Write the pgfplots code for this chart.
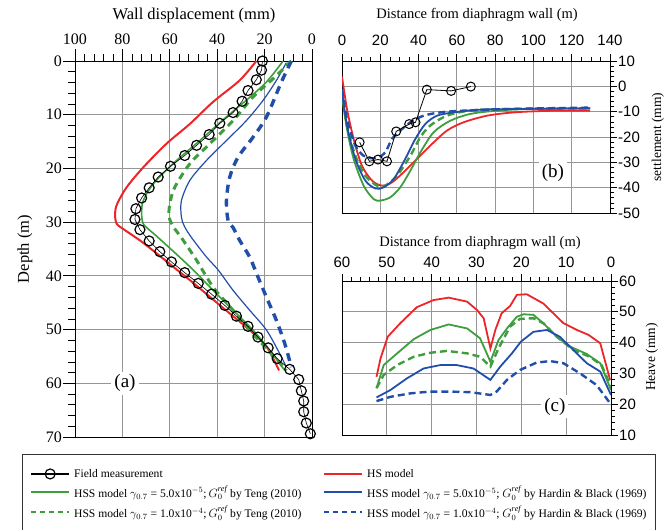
\documentclass[border=0pt]{standalone}
\usepackage{fontspec}
\setmainfont{Liberation Serif}
\setsansfont{Liberation Sans}
\usepackage{pgfplots}
\pgfplotsset{compat=1.18}

\definecolor{hsred}{RGB}{236,38,40}
\definecolor{hssgreen}{RGB}{62,158,62}
\definecolor{hssblue}{RGB}{34,78,170}
\definecolor{gridgray}{RGB}{150,150,150}

\pgfplotsset{
  panel/.style={
    scale only axis,
    anchor=south west,
    tick align=outside,
    axis line style={black, line width=0.8pt},
    major tick style={black, line width=0.8pt},
    minor tick style={black, line width=0.6pt},
    grid=major,
    major grid style={gridgray, line width=0.9pt},
    /pgf/number format/assume math mode=true,
    legend image code/.code={\draw[mark repeat=2,mark phase=2,#1] plot coordinates {(0pt,0pt) (19pt,0pt) (38pt,0pt)};},
  },
  keystyle/.style={
    draw=none, fill=none, inner sep=0pt, row sep=5pt,
    font=\fontsize{11.6}{13}\selectfont,
    nodes={inner xsep=4pt, inner ysep=1pt}},
  fieldline/.style={black, line width=1.2pt, mark=o, mark size=5pt, mark options={solid, line width=1.2pt}},
}

\begin{document}
\begin{tikzpicture}
\useasboundingbox (0pt,0pt) rectangle (672pt,530pt);

% ---------------- (a) wall displacement vs depth ----------------
\begin{axis}[panel,
  at={(75pt,93pt)}, width=237pt, height=376pt,
  x dir=reverse, y dir=reverse,
  xmin=0, xmax=100, ymin=0, ymax=70,
  xtick={0,20,...,100}, ytick={0,10,...,70},
  minor x tick num=4, minor y tick num=4,
  xtick pos=right, xticklabel pos=right, ytick pos=left,
  major tick length=12pt, minor tick length=7pt,
  tick label style={font=\fontsize{16}{18}\selectfont},
  xticklabel style={yshift=1pt},
  yticklabel style={inner sep=1pt},
  xlabel={Wall displacement (mm)}, ylabel={Depth (m)},
  label style={font=\fontsize{16.5}{19}\selectfont},
  xlabel style={at={(axis description cs:0.502,1.122)}, anchor=center},
  ylabel style={at={(axis description cs:-0.211,0.5)}, anchor=center},
  clip=false,
  legend style={keystyle, at={(axis description cs:-0.19,-0.0824)}, anchor=north west},
  legend cell align=left,
]
\addlegendimage{fieldline}
\addlegendentry{Field measurement}
\addlegendimage{hssgreen, line width=2pt}
\addlegendentry{HSS model $\gamma_{0.7}$ = 5.0x10$^{-5}$;$\,G_0^{\mathit{ref}}$ by Teng (2010)}
\addlegendimage{hssgreen, line width=2pt, dash pattern=on 5pt off 4pt}
\addlegendentry{HSS model $\gamma_{0.7}$ = 1.0x10$^{-4}$;$\,G_0^{\mathit{ref}}$ by Teng (2010)}

% HS model
\addplot[forget plot, hsred, line width=2pt, smooth] coordinates {
(23.5,0) (30.5,3.6) (41.7,7.6) (51.5,11.7) (61.4,15.4) (71.2,19.8) (78.2,23.5)
(82.2,26.6) (83.1,28.4) (82.4,30.3) (78.9,31.5) (72.6,33.4) (65.6,35.8) (58.6,38.3)
(51.5,40.8) (43.1,43.9) (34.7,47.0) (26.3,50.1) (19.2,53.2) (13.9,57.6)};
% HSS, Teng, gamma 5e-5
\addplot[forget plot, hssgreen, line width=1.6pt, smooth] coordinates {
(12.2,0) (19.2,3.9) (27.7,7.3) (36.1,10.4) (47.3,14.8) (58.6,19.1) (67.0,22.9)
(71.2,26.0) (71.9,28.4) (71.2,30.3) (68.5,31.5) (65.6,32.6) (58.6,35.4) (50.1,38.9)
(41.7,42.7) (33.3,46.4) (24.9,50.1) (17.8,53.9) (11.5,57.6)};
% HSS, Hardin & Black, gamma 5e-5
\addplot[forget plot, hssblue, line width=1.2pt, smooth] coordinates {
(10.8,0.3) (15.0,3.6) (20.6,7.3) (27.7,11.1) (36.1,14.8) (44.5,18.5) (51.5,22.2)
(55.1,26.0) (55.1,29.1) (53.8,30.8) (50.8,32.9) (44.5,36.5) (39.6,38.9) (33.3,42.7)
(26.3,46.4) (19.2,50.1) (13.6,54.5) (10.8,57.0)};
% HSS, Teng, gamma 1e-4
\addplot[forget plot, hssgreen, line width=3pt, dash pattern=on 7pt off 5pt, smooth] coordinates {
(8.7,0) (16.4,3.3) (24.9,6.7) (33.3,11.1) (43.1,15.4) (51.5,19.1) (57.9,23.5)
(60.0,26.6) (60.3,29.0) (58.6,30.8) (55.1,32.9) (48.7,37.1) (41.7,42.1) (33.3,46.4)
(24.9,50.8) (17.1,54.5) (10.8,57.6)};
% HSS, Hardin & Black, gamma 1e-4
\addplot[forget plot, hssblue, line width=3.4pt, dash pattern=on 8pt off 6pt, smooth] coordinates {
(8.7,0) (12.9,3.9) (19.2,10.4) (24.9,14.2) (31.2,17.9) (34.7,21.6) (36.1,26.0)
(35.4,29.7) (33.3,31.0) (30.5,33.4) (26.3,36.5) (22.8,40.2) (19.2,44.0) (15.0,48.3)
(11.5,52.6) (8.7,57.0)};
% field measurement (inclinometer)
\addplot[forget plot, fieldline, line width=0.6pt] coordinates {
(20.9,0.0) (21.3,1.7) (23.5,3.5) (27.0,5.5) (29.5,7.5) (33.3,9.6) (38.9,11.6)
(43.4,13.7) (48.7,15.7) (53.7,17.6) (59.7,19.6) (64.9,21.6) (68.7,23.6) (71.9,25.5)
(74.3,27.5) (74.7,29.5) (72.6,31.4) (68.7,33.5) (64.2,35.5) (59.3,37.4) (53.7,39.4)
(48.0,41.4) (42.4,43.4) (36.8,45.5) (31.9,47.5) (27.0,49.4) (22.8,51.4) (18.5,53.4)
(14.7,55.4) (9.4,57.4) (5.6,59.3) (4.5,61.4) (3.5,63.3) (3.5,65.3) (2.4,67.4) (0.7,69.4)};

\node[fill=white, inner sep=3pt, font=\fontsize{19}{21}\selectfont] at (axis cs:78.9,60) {(a)};
\end{axis}

% ---------------- (b) surface settlement ----------------
\begin{axis}[panel,
  at={(342pt,317pt)}, width=268pt, height=152pt,
  xmin=0, xmax=140, ymin=-50, ymax=10,
  xtick={0,20,...,140}, ytick={-50,-40,...,10},
  minor x tick num=3, minor y tick num=4,
  xtick pos=right, xticklabel pos=right, ytick pos=right, yticklabel pos=right,
  major tick length=7pt, minor tick length=4pt,
  tick label style={font=\sffamily\fontsize{15}{17}\selectfont},
  xticklabel style={yshift=5pt},
  yticklabel style={inner sep=1pt},
  xlabel={Distance from diaphragm wall (m)}, ylabel={settlement (mm)},
  xlabel style={font=\fontsize{14.5}{17}\selectfont, at={(axis description cs:0.504,1.303)}, anchor=center},
  ylabel style={font=\fontsize{13.5}{16}\selectfont, at={(axis description cs:1.179,0.5)}, anchor=center},
  legend style={keystyle, at={(axis description cs:-0.0709,-1.678)}, anchor=north west},
  legend cell align=left,
]
\addlegendimage{hsred, line width=2pt}
\addlegendentry{HS model}
\addlegendimage{hssblue, line width=2pt}
\addlegendentry{HSS model $\gamma_{0.7}$ = 5.0x10$^{-5}$; $G_0^{\mathit{ref}}$ by Hardin \& Black (1969)}
\addlegendimage{hssblue, line width=2pt, dash pattern=on 5pt off 4pt}
\addlegendentry{HSS model $\gamma_{0.7}$ = 1.0x10$^{-4}$; $G_0^{\mathit{ref}}$ by Hardin \& Black (1969)}

\addplot[forget plot, hsred, line width=1.8pt, smooth] coordinates {
(0,3.9) (2.6,-8.9) (6.1,-20.8) (10.4,-31.3) (15.7,-37.2) (20.9,-39.2) (26.1,-37.9)
(32.2,-33.9) (39.1,-28.7) (46.1,-23.4) (54.8,-17.5) (63.5,-14.2) (75.7,-11.6)
(89.6,-10.3) (107,-9.7) (129.6,-9.6)};
\addplot[forget plot, hssgreen, line width=1.8pt, smooth] coordinates {
(0,-3.7) (2.6,-16.8) (6.1,-28.7) (11.3,-39.2) (16.5,-44.5) (20,-45.1) (25.2,-43.8)
(30.4,-39.9) (35.7,-33.3) (40.9,-26.1) (47.8,-18.2) (56.5,-13.6) (67,-10.9)
(80.9,-9.6) (98.3,-8.9) (129.6,-8.7)};
\addplot[forget plot, hssgreen, line width=2.4pt, dash pattern=on 7pt off 4pt, smooth] coordinates {
(0,-1.7) (2.6,-15.5) (7,-27.4) (12.2,-35.3) (18.3,-39.2) (22.6,-39.2) (28.7,-35.3)
(35.7,-27.4) (40.9,-20.1) (46.1,-15.5) (54.8,-11.6) (67,-9.6) (89.6,-8.9) (129.6,-8.7)};
\addplot[forget plot, hssblue, line width=1.8pt, smooth] coordinates {
(0,-1.7) (2.6,-15.5) (7,-28.7) (12.2,-37.2) (17.4,-40.3) (21.7,-39.9) (27,-36.6)
(33,-28.7) (38.3,-20.8) (43.5,-14.9) (49.6,-11.6) (58.3,-10.3) (72.2,-9.2)
(98.3,-8.9) (129.6,-8.7)};
\addplot[forget plot, hssblue, line width=2.4pt, dash pattern=on 7pt off 4pt, smooth] coordinates {
(0,-1.1) (2.6,-12.9) (7,-23.4) (11.3,-27.4) (15.7,-28.4) (19.1,-28.0) (22.6,-26.1)
(26.1,-20.8) (30.4,-17.5) (35.7,-14.2) (42.6,-11.6) (51.3,-10.3) (63.5,-9.6)
(89.6,-8.9) (129.6,-8.4)};
\addplot[forget plot, black, line width=0.8pt, mark=o, mark size=4.5pt, mark options={solid, line width=1pt}] coordinates {
(9.2,-22.1) (14.3,-29.6) (18.8,-28.9) (23.5,-29.6) (28.3,-17.8) (35.1,-14.9)
(38.4,-14.2) (44.3,-1.3) (57.0,-1.8) (67.3,-0.1)};

\node[fill=white, inner sep=3pt, font=\fontsize{19}{21}\selectfont] at (axis cs:110.2,-34) {(b)};
\end{axis}

% ---------------- (c) basal heave ----------------
\begin{axis}[panel,
  at={(342pt,95pt)}, width=269pt, height=154pt,
  x dir=reverse,
  xmin=0, xmax=60, ymin=10, ymax=60,
  xtick={0,10,...,60}, ytick={10,20,...,60},
  minor x tick num=4, minor y tick num=4,
  xtick pos=right, xticklabel pos=right, ytick pos=right, yticklabel pos=right,
  major tick length=7pt, minor tick length=4pt,
  tick label style={font=\sffamily\fontsize{15}{17}\selectfont},
  xticklabel style={yshift=3pt},
  yticklabel style={inner sep=1pt},
  xlabel={Distance from diaphragm wall (m)}, ylabel={Heave (mm)},
  xlabel style={font=\fontsize{14.5}{17}\selectfont, at={(axis description cs:0.513,1.247)}, anchor=center},
  ylabel style={font=\fontsize{13.5}{16}\selectfont, at={(axis description cs:1.152,0.506)}, anchor=center},
]
\addplot[hsred, line width=1.8pt] coordinates {
(52.3,28.9) (51.4,34.9) (49.8,41.9) (47,46.3) (43.3,51.5) (39.6,53.8) (36.2,54.6)
(32.1,53.3) (29.9,50.6) (28.4,47.9) (26.9,38.1) (25.8,44.1) (24.4,49.5) (22.5,51.9)
(21,55.5) (18.8,55.7) (15.1,52.7) (10.6,46.3) (7.6,44.1) (5,42.5) (2.4,39.8) (0.2,27.9)};
\addplot[hssgreen, line width=1.8pt] coordinates {
(52.3,25.2) (50.7,32.7) (47.7,36.5) (44,41.1) (40.3,44.1) (36.2,45.9) (32.1,44.6)
(29.2,41.4) (26.9,33.8) (25.1,40.8) (23.2,44.6) (21,48.4) (19.5,49.2) (17.3,49.0)
(15.1,46.3) (12.1,41.9) (9.1,38.7) (5.4,36.3) (2.4,33.3) (0,24.6)};
\addplot[hssgreen, line width=2.4pt, dash pattern=on 7pt off 4pt] coordinates {
(52.3,25.2) (50.7,29.5) (47.7,32.7) (44,35.4) (40.3,36.7) (36.6,37.3) (32.1,36.5)
(29.2,35.4) (26.9,32.2) (25.1,38.1) (22.5,45.2) (20.3,47.7) (17.3,47.9) (15.1,46.3)
(12.1,41.9) (8.4,37.6) (4.7,35.4) (2.1,32.7) (0,25.7)};
\addplot[hssblue, line width=1.8pt] coordinates {
(52.3,22.2) (49.2,24.6) (45.5,28.4) (41.8,31.6) (38.1,32.7) (34.4,32.7) (30.7,31.6)
(26.9,27.9) (24.7,32.2) (22.1,36.5) (20.1,40.3) (17.3,43.5) (14.3,44.1) (11.4,41.9)
(8.4,37.6) (5.4,33.3) (2.4,30.6) (0,23)};
\addplot[hssblue, line width=2.4pt, dash pattern=on 7pt off 4pt] coordinates {
(52.3,21.0) (49.2,22.4) (44.8,23.5) (40.3,24.1) (35.9,24.1) (31.4,23.9) (26.9,23.0)
(25.5,24.1) (23.2,27.9) (20.3,31.1) (16.6,33.5) (13.6,34.0) (10.6,33.3) (6.9,30.0)
(3.2,26.2) (0.2,20.3)};

\node[fill=white, inner sep=3pt, font=\fontsize{19}{21}\selectfont] at (axis cs:12.5,19.2) {(c)};
\end{axis}

% legend frame
\draw[black!80, line width=0.8pt] (22.7pt,75.3pt) rectangle (655pt,-2pt);
\end{tikzpicture}
\end{document}
